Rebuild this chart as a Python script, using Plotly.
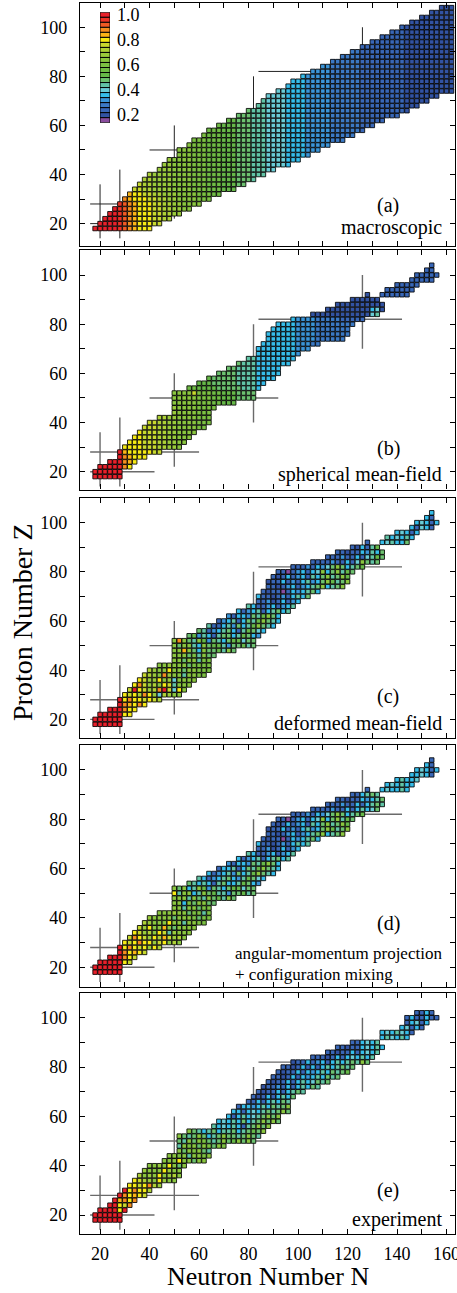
import re
import plotly.graph_objects as go

W, H = 457, 1293

# ---------------- colour levels (legend) ----------------
LEVELS = [1.00, 0.96, 0.92, 0.88, 0.84, 0.80, 0.76, 0.72, 0.68, 0.64, 0.60,
          0.56, 0.52, 0.48, 0.44, 0.40, 0.36, 0.32, 0.28, 0.24, 0.20, 0.16]
LEVEL_CODES = "rRoOyYlLgGhHmtcCsbBdDp"
LEVEL_COLORS = ["#e8202a", "#ec3326", "#f05a24", "#f58d1f", "#fbb416", "#f6ea14",
                "#c8d92e", "#aed136", "#9acb3b", "#8ac63f", "#7cc142", "#70bc45",
                "#66b848", "#6cc16f", "#61c4a6", "#6accd6", "#36bdea", "#3b95d8",
                "#3b79c5", "#3967b7", "#3253a3", "#8a4d9e"]
LEGEND_TICKS = [1.0, 0.8, 0.6, 0.4, 0.2]
LEGEND_TEXT = ["1.0", "0.8", "0.6", "0.4", "0.2"]

# ---------------- nuclei: rows of (Z, first N, run-length colour codes) ----------------
ROWS_A = [
    (18, 18, "r5R1o1O1y1Y3"), (20, 20, "r4R1o1O1y1Y3l2"), (22, 22, "r3R1o1O1y1Y3l2L2"),
    (24, 24, "r2R1o1O1y1Y3l2L2g2"), (26, 26, "r1R1o1O1y1Y3l2L2g2G2"),
    (28, 28, "R1o1O1y1Y3l2L2g2G4"), (30, 30, "O1y1Y3l2L2g2G4h3"),
    (32, 32, "y1Y2l2L2g3G4h3H2"), (34, 34, "l2L2g4G4h3H3m3"),
    (36, 36, "l1L2g4G4h3H3m3t2"), (38, 38, "L2g4G4h3H3m3t3c1"),
    (40, 40, "L1g4G4h3H3m3t3c3"), (42, 44, "g3G4h3H3m3t3c3C2"),
    (44, 46, "g2G4h3H3m3t3c3C4s1"), (46, 48, "g1G4h3H3m3t3c3C4s3"),
    (48, 52, "G3h3H3m3t3c3C4s4b1"), (50, 52, "G3h3H3m3t3c3C4s4b3"),
    (52, 56, "G1h3H3m3t3c3C4s4b5"), (54, 58, "h3H3m3t3c3C4s4b5B3"),
    (56, 62, "h1H3m3t3c3C4s4b5B5"), (58, 64, "H3m3t3c3C4s4b5B6d1"),
    (60, 68, "H1m3t3c3C4s4b5B6d3"), (62, 72, "m2t3c3C4s4b5B6d5"),
    (64, 76, "t3c3C4s4b5B6d8"), (66, 80, "t1c3C4s4b5B6d9D1"),
    (68, 84, "c2C4s4b5B6d9D3"), (70, 86, "c1C4s4b5B6d9D5"),
    (72, 88, "C4s4b5B6d9D7"), (74, 92, "C2s4b5B6d9D10"),
    (76, 96, "s4b5B6d9D10"), (78, 98, "s3b5B6d9D10"), (80, 102, "s1b5B6d9D10"),
    (82, 106, "b4B6d9D10"), (84, 110, "b2B6d9D10"), (86, 114, "B6d9D10"),
    (88, 118, "B4d9D10"), (90, 122, "B2d9D10"), (92, 126, "d9D10"),
    (94, 130, "d7D10"), (96, 134, "d5D10"), (98, 138, "d3D10"), (100, 142, "d1D10"),
    (102, 146, "D9"), (104, 150, "D7"), (106, 154, "D5"), (108, 158, "D3"),
]

ROWS_B = [
    (18, 18, "r6"), (20, 18, "r6"), (22, 20, "r5O1Y1"), (24, 24, "r3O1y1Y1"),
    (26, 28, "r1O1y1Y3"), (28, 28, "r1y1Y5l2"), (30, 30, "Y4l3L2g2G1"),
    (32, 32, "Y3l3L2g2G2"), (34, 34, "Y2l3L2g2G3"), (36, 36, "Y1l3L2g2G4"),
    (38, 38, "l3L2g2G4h2"), (40, 40, "l2L2g2G4h3"), (42, 44, "L2g2G4h3"),
    (44, 50, "g1G4h3"), (46, 50, "g1G4h4"), (48, 50, "G5h3H2m3"),
    (50, 50, "G5h3H2m3t4"), (52, 50, "G4l1h3H2m3t4"), (54, 56, "H2m4t5c3s1"),
    (56, 60, "m3t5c4s2"), (58, 64, "m1t5c4s4"), (60, 68, "t4c4s5"),
    (62, 72, "t2c4s5"), (64, 76, "t1c3s7"), (66, 80, "c2s8"), (68, 84, "s8b1"),
    (70, 84, "s8b3"), (72, 86, "s7b3B2"), (74, 88, "s6b4B6"), (76, 88, "s6b4B7"),
    (78, 90, "s5b4B7"), (80, 92, "s4b4B8"), (82, 98, "s1b4B5d5"),
    (84, 106, "D12C1c1"), (86, 112, "D9s1C1D1"), (88, 116, "D10"), (90, 122, "D6"),
    (92, 128, "D1.2d6"), (94, 136, "d6"), (96, 140, "d5"), (98, 146, "d5"),
    (100, 148, "d5"), (102, 152, "d2"), (104, 154, "d1"),
]

ROWS_C = [
    (18, 18, "r6"), (20, 18, "r6"), (22, 20, "r5Y2"), (24, 24, "r3O1Y2"),
    (26, 28, "r1O1y1Y1O1Y1"), (28, 28, "r1Y1O1Y2l1Y1l1L1"),
    (30, 30, "Y1l1Y1L1O1Y1g1C1L1g1G2"), (32, 32, "l1r1Y1l1g1L1O1r1l1C1Y1G1"),
    (34, 34, "Y1O1l1g1L1G1Y1l1c1G3"), (36, 36, "Y1l1g2Y1G1g1C1G4"),
    (38, 38, "l1L1g1G1O1g1G2c1G2h2"), (40, 40, "L1g1G2Y1G2t1G2h3"),
    (42, 44, "G2g1G3t1h4"), (44, 50, "G2t1G2c1h2"), (46, 50, "G3t1h1c1G1t2"),
    (48, 50, "G2y1G1t1s1G1t2m1c1G1t1"), (50, 50, "G1t1G2c1s1G1t1m2c1b1t2m1c1t1"),
    (52, 50, "G1O1G1t1c1G1m1b1t1c1s1t1m2C1t2"), (54, 56, "t1m1b1c1s1d1c1t2s1c1m1t1s1b1"),
    (56, 60, "t1c1d1b1s1c1t1s1d1c1m1t1C1s1"), (58, 64, "c1d2s1c1b1t1s1c1m1G1t1c1s1"),
    (60, 68, "d1b1s1c1d1s1t1c1m1G1t1c1s1"), (62, 72, "b1d1s2b1t1c1m1G1t1s1"),
    (64, 76, "s1d1b1s1c1d1s1c1t1s1c1"), (66, 80, "c1s1d2b1s1d1b1s1c1"),
    (68, 84, "d2b1D1d1s1d1b1s1"), (70, 84, "s1d2D1d1b1d1s1c1s1t1"),
    (72, 86, "d1D1d2p1d1s1b1s1c1t1s1"), (74, 88, "d2D1d1b1s1d1b1s1c1t1G1s1c1t1G1"),
    (76, 88, "D1d2s1d1b1d1s1c1b1s1t1G1m1c1t1G1"), (78, 90, "d1D1d1s1d1b1s1d1c1s1t1G1c1t1G1m1"),
    (80, 92, "d2p1d1b1s1d1s1C1G1s1t1G1c1m1t1"), (82, 98, "d3b1d1s1b1C1t1G1t1s1c1t1m1"),
    (84, 106, "d4b1d2s1d1C1G1t1c1t1"), (86, 112, "d3b1d2s1d1C1c1m1t1"),
    (88, 116, "d2D1d2s1b1c1s1t1"), (90, 122, "d1D1s1d1c1m1"),
    (92, 128, "d1.2s1C1c1s2t1"), (94, 136, "c1s1C1s1c1s1"), (96, 140, "s1C1s1d1s1"),
    (98, 146, "s1d1C1s1d1"), (100, 148, "s1C1s1d1s1"), (102, 152, "s1d1"), (104, 154, "s1"),
]

ROWS_D = [
    (18, 18, "r6"), (20, 18, "r6"), (22, 20, "r5Y1l1"), (24, 24, "r3O1Y1l1"),
    (26, 28, "r1O1Y1y1Y1l1"), (28, 28, "r1Y1O1Y1l1Y1g1Y1L1"),
    (30, 30, "Y1l1Y1O1Y2g1l1Y1G1L1G1"), (32, 32, "l1O1Y1l1g1Y1L1y1l1g1L1G1"),
    (34, 34, "Y1l1g1L1G1Y1l1c1g1G3"), (36, 36, "l1g1Y1G2y1G1t1G4"),
    (38, 38, "L1g1G3Y1G2c1G2h2"), (40, 40, "g1G4t1G3h1t1h2"),
    (42, 44, "G3g1G2t1h2c1h1"), (44, 50, "G2c1G2t1h2"), (46, 50, "G2s1h1t1G2t2"),
    (48, 50, "G3c1G1t1c1G1t1m1c1G1t1"), (50, 50, "Y1c1G2s1c1G1t1m1c2b1t2m1c1t1"),
    (52, 50, "G1t1G1s1c1G1m1b1t1c1s1t1m2C1t2"), (54, 56, "t1c1s1c1s1d1c1t1s2c1m1t1s1b1"),
    (56, 60, "c1s1d1b1s1c1t1s1b1c1m1t1C1s1"), (58, 64, "s1d1b1s1c1b1t1s1c1m1G1t1c1s1"),
    (60, 68, "d1s2c1d1s1t1c1m1G1t1c1s1"), (62, 72, "b1d1s2b1t1c1m1G1t1s1"),
    (64, 76, "s1d1b1s1c1d1s1c1t1s1c1"), (66, 80, "c1s1d2b1s1d1b1s1c1"),
    (68, 84, "d2b1D1d1s1d1b1s1"), (70, 84, "s1d2D1d1b1d1s1c1s1c1"),
    (72, 86, "d1D1d2p1d1s1b1s1c1t1s1"), (74, 88, "d2D1d1b1s1d1b1s1c1t1G1s1c1t1G1"),
    (76, 88, "D1d2s1d1b1d1s1c1b1s1t1G1m1c1t1G1"), (78, 90, "d1D1d1s1d1b1s1d1c1s1t1G1c1t1G1m1"),
    (80, 92, "d2p1d1b1s1d1s1C1G1s1t1G1c1m1t1"), (82, 98, "d3b1d1s1b1C1t1G1t1s1c1t1m1"),
    (84, 106, "d4b1d2s1d1s1c1s1C1t1"), (86, 112, "d3b1d2s1d1s1c1t1c1"),
    (88, 116, "d2D1d2s1b1s1c1t1"), (90, 122, "d2s1c1t1c1"),
    (92, 128, "d1.2s1C1s2c1s1"), (94, 136, "s1C1s1c1s2"), (96, 140, "s1c1s2C1"),
    (98, 146, "s2C1s1d1"), (100, 148, "s1C1s1d1s1"), (102, 152, "s1d1"), (104, 154, "d1"),
]

ROWS_E = [
    (18, 18, "r6"), (20, 18, "r6"), (22, 20, "r4Y1r1"), (24, 24, "r2Y1l1O1"),
    (26, 26, "r1y1O1Y1O1"), (28, 28, "r1O1Y1y1Y1l1"), (30, 30, "r1Y1O1Y2L1"),
    (32, 32, "Y2l1Y1O1L1g1"), (34, 34, "Y1l1L1g1G1Y1g1G2"), (36, 36, "L1G1g1G1Y1G1g1L1G1"),
    (38, 38, "g1G3Y1g1G2"), (40, 40, "G2g1G1Y1G1t1G1"), (42, 46, "G3Y1G2t1G2"),
    (44, 48, "G2h1G1c1G2h1G1"), (46, 52, "G1t1G1h1G1t1c1"), (48, 52, "c1G1h1G1t1G1h1t1G1h1"),
    (50, 52, "t1c1G1t1G1h1t1c1t1G1t1m1G1t1G1t1"), (52, 52, "G1t1c1t1G1t1s1c1t1G1t2c1t1G1t1c1"),
    (54, 56, "G1t1c1s1c1t1s1c2t1s1c1t1m1t1G1"), (56, 66, "c1s1C1s1c1s1d1c1t1G1t1G1"),
    (58, 68, "s1C1s1c1s1t1s1c1t1G1t1G1t1"), (60, 72, "s1d1s1c1s1C1c1t1G1t1G1"),
    (62, 74, "s2d1s1C1s1c1t1c1t1G1t1"), (64, 76, "d1s2b1s1c1s1t1c1t1G1"),
    (66, 80, "d2s1d1s1c1s1t1c1"), (68, 82, "d1D1d1s1d1s1c1s1t1"),
    (70, 84, "d1D1d2s1d1s1c1t1c1"), (72, 86, "D1d2b1d1s1d1s1c1s1t1c1"),
    (74, 88, "d1D1d2s1d1s1c1s1C1t1c1t1"), (76, 90, "d2D1d1s1d1s1b1s1c1s1t1c1t1"),
    (78, 92, "d1D1d2s1d1s1b1s1c1s1t1c1t1m1"), (80, 94, "d2D1d1s1d1s1d1s1c1s1c1t1c1t1"),
    (82, 98, "D1d2s1d1b1s1d1s1c1s1c1t1c1G1t1"), (84, 106, "d3D1d1s1d1s1C1s1c1s1c1"),
    (86, 112, "d2D1d2s1d1s1C1s1c1"), (88, 116, "d2D1d2s1C1s1c1s1"), (90, 122, "d2s1C1s1c1"),
    (92, 134, "s1c1C1s1c1s1"), (94, 134, "s1C1s1c1C1s1d1"), (96, 142, "s1C1d1s1d1"),
    (98, 144, "d1s1C1d1s1"), (100, 144, "d1s1d2s1d2"), (102, 148, "d2s1d1"),
]

# magic-number guide lines: (N, Zfrom, Zto) and (Z, Nfrom, Nto)
MAGIC_V = [(20, 14, 36), (28, 14, 42), (50, 22, 60), (82, 40, 80), (126, 70, 100)]
MAGIC_H = [(20, 16, 42), (28, 16, 60), (50, 40, 92), (82, 84, 142)]

PANEL_LABELS = ["(a)", "(b)", "(c)", "(d)", "(e)"]
PANEL_NAMES = ["macroscopic", "spherical mean-field", "deformed mean-field",
               "angular-momentum projection<br>+ configuration mixing", "experiment"]

X_TICKS = list(range(20, 161, 10))
Y_TICKS = list(range(20, 101, 10))

# ---------------- layout geometry (pixels) ----------------
PANEL_PX = [(2.7, 245.7), (249.5, 489.5), (498.3, 738.3), (745.0, 986.7), (993.3, 1234.3)]
PANEL_YR = [(11.0, 110.0), (12.75, 110.4), (12.3, 109.9), (12.1, 110.1), (12.2, 109.9)]
X_PX = (80.0, 455.0)
X_RANGE = (11.9, 163.4)
LABEL_Y = [205, 448, 696, 923, 1190]
NAME_Y = [228, 474, 723, 963, 1219]

FONT = "Liberation Serif"

# discrete colour scale built from the legend levels
CMIN, CMAX = 0.14, 1.02
asc = list(reversed(list(zip(LEVELS, LEVEL_COLORS))))
nlev = len(asc)
CS = []
for i, (lv, col) in enumerate(asc):
    CS.append([i / nlev, col])
    CS.append([(i + 1) / nlev, col])


def expand(rows):
    xs, ys, vs = [], [], []
    for z, n0, rle in rows:
        n = n0
        for code, cnt in re.findall(r"([A-Za-z.])(\d+)", rle):
            for _ in range(int(cnt)):
                if code != ".":
                    xs.append(n)
                    ys.append(z)
                    vs.append(LEVELS[LEVEL_CODES.index(code)])
                n += 2
    return xs, ys, vs


def py(ypx):
    return 1 - ypx / H


def px(xpx):
    return xpx / W


fig = go.Figure()
layout = dict(width=W, height=H, margin=dict(l=0, r=0, t=0, b=0),
              paper_bgcolor="white", plot_bgcolor="white", showlegend=False,
              font=dict(family=FONT, color="black"))
shapes, annotations = [], []

axis_common = dict(showline=True, linecolor="black", linewidth=1.3, mirror="ticks",
                   ticks="inside", ticklen=5, tickwidth=1, tickcolor="black",
                   showgrid=False, zeroline=False, automargin=False,
                   tickfont=dict(family=FONT, size=18, color="black"))

all_rows = [ROWS_A, ROWS_B, ROWS_C, ROWS_D, ROWS_E]
for i, rows in enumerate(all_rows):
    k = "" if i == 0 else str(i + 1)
    xs, ys, vs = expand(rows)
    fig.add_trace(go.Scatter(
        x=xs, y=ys, mode="markers", xaxis="x" + k, yaxis="y" + k, hoverinfo="skip",
        marker=dict(symbol="square", size=4.5, color=vs, colorscale=CS, cmin=CMIN, cmax=CMAX,
                    line=dict(color="black", width=0.85))))
    top, bot = PANEL_PX[i]
    layout["xaxis" + k] = dict(axis_common, domain=[px(X_PX[0]), px(X_PX[1])], range=list(X_RANGE),
                               anchor="y" + k, tickvals=X_TICKS,
                               ticktext=[str(t) if t % 20 == 0 else "" for t in X_TICKS],
                               showticklabels=(i == 4), ticklabelstandoff=3,
                               ticklabeloverflow="allow")
    layout["yaxis" + k] = dict(axis_common, domain=[py(bot), py(top)], range=list(PANEL_YR[i]),
                               anchor="x" + k, tickvals=Y_TICKS,
                               ticktext=[str(t) if t % 20 == 0 else "" for t in Y_TICKS],
                               ticklabelstandoff=8)
    lc, lw = ("#222222", 1.0) if i == 0 else ("#6a6a6a", 1.4)
    for n, z0, z1 in MAGIC_V:
        shapes.append(dict(type="line", xref="x" + k, yref="y" + k, x0=n, x1=n, y0=z0, y1=z1,
                           line=dict(color=lc, width=lw), layer="below"))
    for z, n0, n1 in MAGIC_H:
        shapes.append(dict(type="line", xref="x" + k, yref="y" + k, x0=n0, x1=n1, y0=z, y1=z,
                           line=dict(color=lc, width=lw), layer="below"))
    annotations.append(dict(text=PANEL_LABELS[i], xref="paper", yref="paper", x=px(388), y=py(LABEL_Y[i]),
                            xanchor="center", yanchor="middle", showarrow=False,
                            font=dict(family=FONT, size=20, color="black")))
    if i == 3:
        annotations.append(dict(text="angular-momentum projection", xref="paper", yref="paper",
                                x=px(233), y=py(953), xanchor="left", yanchor="middle", showarrow=False,
                                font=dict(family=FONT, size=17, color="black")))
        annotations.append(dict(text="+ configuration mixing", xref="paper", yref="paper",
                                x=px(233), y=py(974), xanchor="left", yanchor="middle", showarrow=False,
                                font=dict(family=FONT, size=17, color="black")))
    else:
        annotations.append(dict(text=PANEL_NAMES[i], xref="paper", yref="paper", x=px(444), y=py(NAME_Y[i]),
                                xanchor="right", yanchor="middle", showarrow=False,
                                font=dict(family=FONT, size=20, color="black")))

# legend (colour key) inside panel (a)
fig.add_trace(go.Bar(
    x=[1] * len(LEVELS), y=LEVELS, orientation="h", width=0.04, base=0,
    xaxis="x6", yaxis="y6", hoverinfo="skip",
    marker=dict(color=LEVELS, colorscale=CS, cmin=CMIN, cmax=CMAX,
                line=dict(color="black", width=1))))
layout["xaxis6"] = dict(domain=[px(100), px(110)], range=[0, 1], anchor="y6", visible=False)
layout["yaxis6"] = dict(domain=[py(122.7), py(12.3)], range=[CMIN, CMAX], anchor="x6", side="right",
                        tickvals=LEGEND_TICKS, ticktext=LEGEND_TEXT, showline=False, showgrid=False,
                        zeroline=False, ticks="", automargin=False, ticklabelstandoff=6,
                        tickfont=dict(family=FONT, size=18, color="black"))

annotations.append(dict(text="Proton Number Z", xref="paper", yref="paper", x=px(22), y=py(622),
                        textangle=-90, xanchor="center", yanchor="middle", showarrow=False,
                        font=dict(family=FONT, size=28, color="black")))
annotations.append(dict(text="Neutron Number N", xref="paper", yref="paper", x=px(268), y=0,
                        xanchor="center", yanchor="bottom", showarrow=False,
                        font=dict(family=FONT, size=26, color="black")))

layout["shapes"] = shapes
layout["annotations"] = annotations
fig.update_layout(**layout)
fig.write_html("out.html")
